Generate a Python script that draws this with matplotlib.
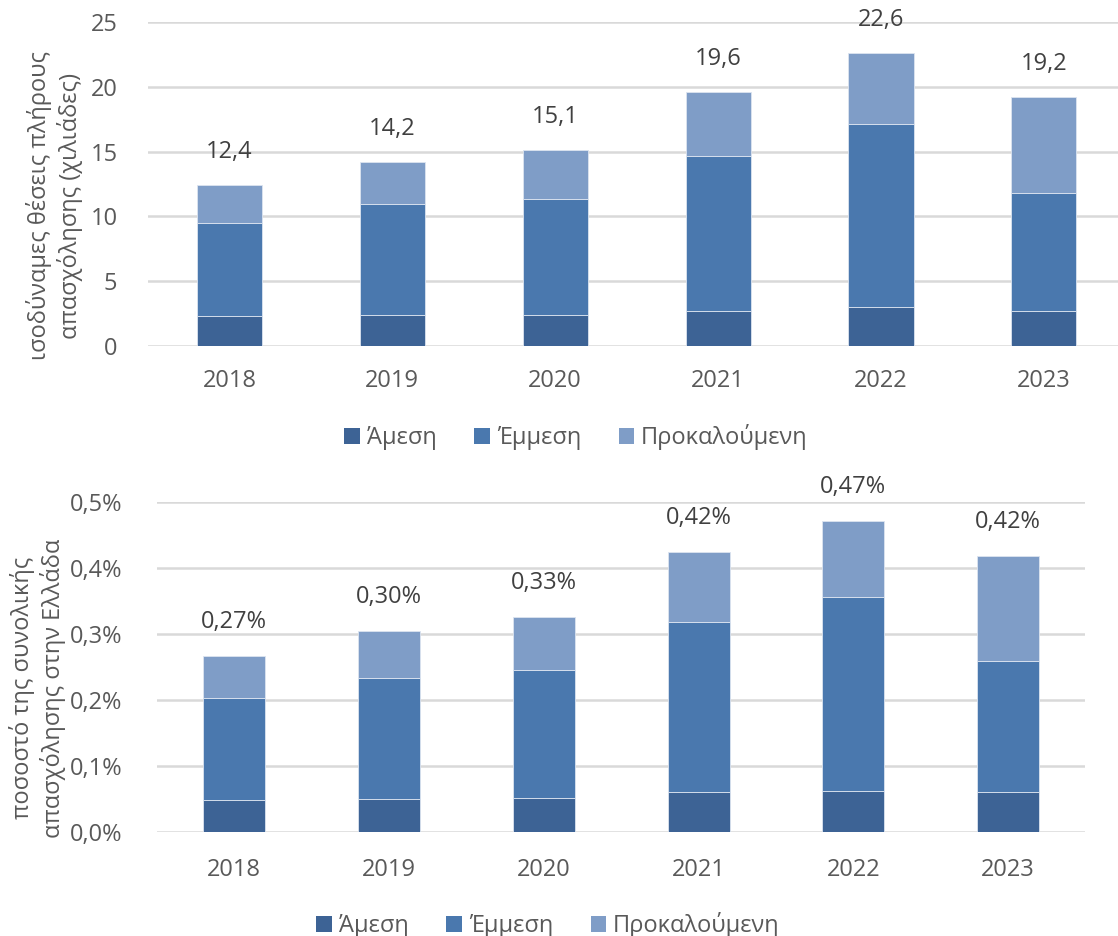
import matplotlib
matplotlib.use("Agg")
import matplotlib.pyplot as plt
import numpy as np
from matplotlib.patches import Patch

plt.rcParams['font.family'] = ['Open Sans', 'DejaVu Sans']

years = ["2018", "2019", "2020", "2021", "2022", "2023"]
series_names = ["Άμεση", "Έμμεση", "Προκαλούμενη"]

# top chart: thousand FTE jobs
fte_direct = [2.3, 2.35, 2.35, 2.7, 3.0, 2.7]
fte_indirect = [7.15, 8.6, 9.0, 11.95, 14.1, 9.1]
fte_induced = [2.95, 3.25, 3.75, 4.95, 5.5, 7.4]
fte_totals = ["12,4", "14,2", "15,1", "19,6", "22,6", "19,2"]

# bottom chart: share of total employment in Greece (%)
pct_direct = [0.048, 0.049, 0.051, 0.060, 0.061, 0.060]
pct_indirect = [0.155, 0.184, 0.194, 0.258, 0.295, 0.199]
pct_induced = [0.063, 0.071, 0.081, 0.106, 0.115, 0.159]
pct_totals = ["0,27%", "0,30%", "0,33%", "0,42%", "0,47%", "0,42%"]

colors = ["#3D6395", "#4A78AE", "#7F9DC7"]
tick_color = "#595959"
label_color = "#404040"
grid_color = "#D9D9D9"
FS = 17

W, H = 1118, 936
fig = plt.figure(figsize=(W / 100, H / 100), dpi=100)

def px_axes(left, right, top, bottom):
    return fig.add_axes([left / W, (H - bottom) / H, (right - left) / W, (bottom - top) / H])

def style(ax):
    for s in ax.spines.values():
        s.set_visible(False)
    ax.tick_params(axis='both', length=0, labelsize=FS, colors=tick_color)
    ax.yaxis.grid(True, color=grid_color, linewidth=1.8)
    ax.set_axisbelow(True)

def draw(ax, d, i, u, totals, off):
    x = np.arange(len(years))
    d = np.array(d); i = np.array(i); u = np.array(u)
    ax.bar(x, d, width=0.4, color=colors[0], edgecolor="#DCE4F0", linewidth=0.6)
    ax.bar(x, i, width=0.4, bottom=d, color=colors[1], edgecolor="#DCE4F0", linewidth=0.6)
    ax.bar(x, u, width=0.4, bottom=d + i, color=colors[2], edgecolor="#DCE4F0", linewidth=0.6)
    tot = d + i + u
    for xi, t, lab in zip(x, tot, totals):
        ax.annotate(lab, (xi, t), xytext=(0, off), textcoords="offset pixels",
                    ha="center", va="bottom", fontsize=FS, color=label_color)
    ax.set_xticks(x)
    ax.set_xticklabels(years)

# Top chart
ax1 = px_axes(148, 1118, 22.3, 345.7)
style(ax1)
draw(ax1, fte_direct, fte_indirect, fte_induced, fte_totals, 21)
ax1.set_xlim(-0.5, 5.455)
ax1.set_ylim(0, 25)
ax1.set_yticks([0, 5, 10, 15, 20, 25])
ax1.tick_params(axis='y', pad=22)
ax1.tick_params(axis='x', pad=17)
fig.text(55 / W, 1 - 206 / H, "ισοδύναμες θέσεις πλήρους\nαπασχόλησης (χιλιάδες)", rotation=90,
         ha="center", va="center", fontsize=FS, color=tick_color, linespacing=1.25,
         multialignment="center")

# Bottom chart
ax2 = px_axes(157, 1085.4, 501.7, 831.7)
style(ax2)
draw(ax2, pct_direct, pct_indirect, pct_induced, pct_totals, 22)
ax2.set_xlim(-0.5, 5.5)
ax2.set_ylim(0, 0.5)
ax2.set_yticks([0, 0.1, 0.2, 0.3, 0.4, 0.5])
ax2.set_yticklabels(["0,0%", "0,1%", "0,2%", "0,3%", "0,4%", "0,5%"])
ax2.tick_params(axis='y', pad=25)
ax2.tick_params(axis='x', pad=19)
fig.text(38 / W, 1 - 688 / H, "ποσοστό της συνολικής\nαπασχόλησης στην Ελλάδα", rotation=90,
         ha="center", va="center", fontsize=FS, color=tick_color, linespacing=1.25,
         multialignment="center")

handles = [Patch(facecolor=c, edgecolor="none") for c in colors]
for cx, cy in [(576, 437), (548, 925)]:
    fig.legend(handles, series_names, loc="center", bbox_to_anchor=(cx / W, 1 - cy / H),
               ncol=3, frameon=False, fontsize=FS, labelcolor=tick_color,
               handlelength=0.65, handleheight=0.65, handletextpad=0.3, columnspacing=1.6)

fig.savefig("out.png", dpi=100)
